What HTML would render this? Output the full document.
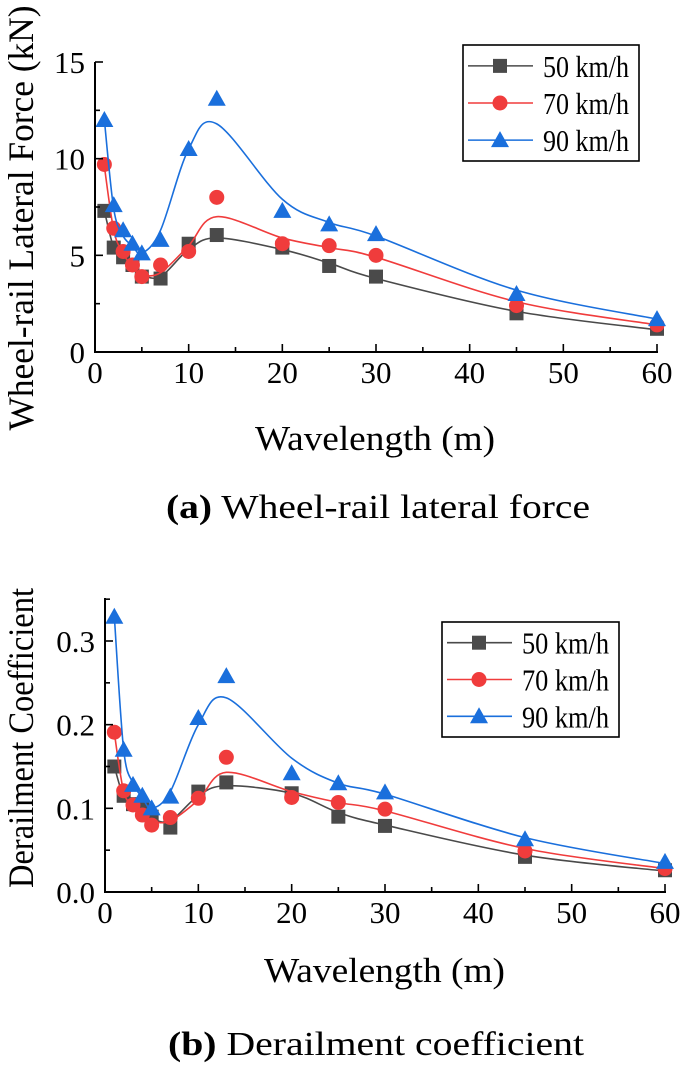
<!DOCTYPE html>
<html><head><meta charset="utf-8"><style>
html,body{margin:0;padding:0;background:#fff;}
svg, svg text{font-family:"Liberation Serif","Times New Roman",Times,serif;}
svg{display:block;}
</style></head><body>
<svg id="s" width="685" height="1070" viewBox="0 0 685 1070" xmlns="http://www.w3.org/2000/svg" font-family="Liberation Serif, Times New Roman, serif"></svg>
<script>
const xs = [1,2,3,4,5,7,10,13,20,25,30,45,60];
const seriesNames = ["50 km/h","70 km/h","90 km/h"];
const a50 = [7.3,5.4,4.9,4.5,3.9,3.8,5.6,6.05,5.4,4.45,3.9,2.0,1.2];
const a70 = [9.7,6.4,5.2,4.5,3.9,4.5,5.2,8.0,5.6,5.5,5.0,2.4,1.4];
const a90 = [12.0,7.6,6.3,5.6,5.1,5.8,10.5,13.1,7.3,6.6,6.1,3.0,1.7];
const a50fit = [7.3,5.4,4.8,4.3,4.0,3.9,5.3,5.9,5.3,4.6,3.8,2.1,1.15];
const a70fit = [9.6,6.3,5.1,4.4,4.0,4.1,5.5,7.0,5.9,5.4,4.9,2.6,1.4];
const a90fit = [12.0,7.4,6.0,5.5,5.1,6.3,10.5,11.8,7.9,6.7,6.0,3.2,1.7];
const b50 = [.150,.115,.105,.100,.090,.077,.120,.131,.118,.090,.079,.042,.026];
const b70 = [.191,.121,.104,.092,.080,.089,.112,.161,.113,.107,.099,.049,.028];
const b90 = [.329,.170,.128,.115,.100,.114,.208,.258,.142,.130,.119,.063,.036];
const b50fit = [.150,.113,.100,.095,.088,.085,.115,.127,.118,.095,.080,.044,.025];
const b70fit = [.190,.120,.104,.094,.085,.085,.110,.143,.120,.107,.097,.052,.028];
const b90fit = [.329,.170,.130,.113,.100,.120,.200,.232,.160,.130,.117,.065,.034];
const xTicks = [0,10,20,30,40,50,60];
const aYTicks = [0,5,10,15];
const aYLabels = ["0","5","10","15"];
const bYTicks = [0,0.1,0.2,0.3];
const bYLabels = ["0.0","0.1","0.2","0.3"];
const colors = ["#4a4a4a","#f03c3c","#1a6fdc"];
const NS="http://www.w3.org/2000/svg";
const svg=document.getElementById('s');
function mk(tag,attrs,parent){const e=document.createElementNS(NS,tag);for(const k in attrs)e.setAttribute(k,attrs[k]);(parent||svg).appendChild(e);return e;}
function txt(str,attrs,parent){const t=mk('text',attrs,parent);t.textContent=str;return t;}
function smooth(pts){let d=`M${pts[0][0]},${pts[0][1]}`;for(let i=0;i<pts.length-1;i++){const p0=pts[Math.max(i-1,0)],p1=pts[i],p2=pts[i+1],p3=pts[Math.min(i+2,pts.length-1)];const c1=[p1[0]+(p2[0]-p0[0])/6,p1[1]+(p2[1]-p0[1])/6],c2=[p2[0]-(p3[0]-p1[0])/6,p2[1]-(p3[1]-p1[1])/6];d+=` C${c1[0]},${c1[1]} ${c2[0]},${c2[1]} ${p2[0]},${p2[1]}`;}return d;}
function marker(kind,x,y,c,g){let m;
 if(kind===0)m=mk('rect',{x:x-7,y:y-7,width:14,height:14,fill:c},g);
 else if(kind===1)m=mk('circle',{cx:x,cy:y,r:7.5,fill:c},g);
 else m=mk('polygon',{points:`${x},${y-9} ${x+9},${y+7} ${x-9},${y+7}`,fill:c},g);
 return m;}
function chart(cfg){
 const g=mk('g',{});
 
 
 const X=v=>cfg.x0+(v/60)*(cfg.x1-cfg.x0);
 const Y=v=>cfg.y0-(v/cfg.ymax)*(cfg.y0-cfg.yTopVal);
 const data=[cfg.s50,cfg.s70,cfg.s90], fits=[cfg.f50,cfg.f70,cfg.f90];
 for(let s=0;s<3;s++){
  const sg=mk('g',{},g);
  
  
  const p=mk('path',{d:smooth(xs.map((x,i)=>[X(x),Y(fits[s][i])])),fill:'none',stroke:colors[s],'stroke-width':1.6},sg);
  
  
  xs.forEach((x,i)=>{const m=marker(s,X(x),Y(data[s][i]),colors[s],sg);
   
   });
 }
 const ax=mk('path',{d:`M${cfg.x0},${cfg.yTop} V${cfg.y0} H${cfg.x1+1}`,fill:'none',stroke:'#000','stroke-width':2},g);
 
 
 for(let v=0;v<=60;v+=5){const L=v%10===0?8:5;mk('line',{x1:X(v),x2:X(v),y1:cfg.y0,y2:cfg.y0-L,stroke:'#000','stroke-width':1.6},g);}
 xTicks.forEach(v=>{const t=txt(String(v),{x:X(v),y:cfg.y0+31,'font-size':31,'text-anchor':'middle'},g);
  
  });
 const yt=cfg.yTicks;
 for(let i=0;i<yt.length;i++){mk('line',{x1:cfg.x0,x2:cfg.x0+8,y1:Y(yt[i]),y2:Y(yt[i]),stroke:'#000','stroke-width':1.6},g);
  if(i<yt.length-1){const mv=(yt[i]+yt[i+1])/2;mk('line',{x1:cfg.x0,x2:cfg.x0+5,y1:Y(mv),y2:Y(mv),stroke:'#000','stroke-width':1.6},g);}
  const t=txt(cfg.yLabels[i],{x:cfg.x0-10,y:Y(yt[i])+11,'font-size':31,'text-anchor':'end'},g);
  
  }
 if(cfg.extraMinor){const mv=yt[yt.length-1]+ (yt[1]-yt[0])/2;mk('line',{x1:cfg.x0,x2:cfg.x0+5,y1:Y(mv),y2:Y(mv),stroke:'#000','stroke-width':1.6},g);}
 const xt=txt('Wavelength (m)',{x:cfg.xtX,y:cfg.xtY,'font-size':35,textLength:cfg.xtW,lengthAdjust:'spacingAndGlyphs'},g);
 
 
 const ytt=txt(cfg.ytitle,{x:0,y:0,'font-size':36,'text-anchor':'middle',textLength:cfg.ytW,lengthAdjust:'spacingAndGlyphs',transform:`translate(${cfg.ytX},${cfg.ytY}) rotate(-90)`},g);
 
 
 const lg=mk('g',{},g);
 
 
 mk('rect',{x:cfg.lx,y:cfg.ly,width:cfg.lw,height:cfg.lh,fill:'#fff',stroke:'#000','stroke-width':1.6},lg);
 for(let s=0;s<3;s++){const yy=cfg.ly+cfg.lh*(0.18+0.32*s);
  const e=mk('g',{},lg);
  
  
  mk('line',{x1:cfg.lx+5,x2:cfg.lx+70,y1:yy,y2:yy,stroke:colors[s],'stroke-width':1.6},e);
  marker(s,cfg.lx+37,yy,colors[s],e);
  txt(seriesNames[s],{x:cfg.lx+80,y:yy+11,'font-size':31,textLength:cfg.lw-90,lengthAdjust:'spacingAndGlyphs'},e);}
 const cap=mk('text',{x:cfg.capX,y:cfg.capY,'font-size':34,textLength:cfg.capW,lengthAdjust:'spacingAndGlyphs'},g);
 
 
 const b=document.createElementNS(NS,'tspan');b.setAttribute('font-weight','bold');b.textContent=cfg.capB;cap.appendChild(b);
 const r=document.createElementNS(NS,'tspan');r.textContent=' '+cfg.capT;cap.appendChild(r);
}
chart({name:'chart-lateral-force',x0:95,x1:657,y0:352,yTopVal:62,ymax:15,yTop:62,yTicks:aYTicks,yLabels:aYLabels,
 s50:a50,s70:a70,s90:a90,f50:a50fit,f70:a70fit,f90:a90fit,
 xtX:255,xtY:450,xtW:240,ytitle:'Wheel-rail Lateral Force (kN)',ytX:33,ytY:218,ytW:425,
 lx:463,ly:45,lw:176,lh:116,capX:166,capY:518,capW:424,capB:'(a)',capT:'Wheel-rail lateral force'});
chart({name:'chart-derailment-coefficient',x0:105,x1:665,y0:892,yTopVal:641,ymax:0.3,yTop:598,yTicks:bYTicks,yLabels:bYLabels,extraMinor:true,
 s50:b50,s70:b70,s90:b90,f50:b50fit,f70:b70fit,f90:b90fit,
 xtX:264,xtY:982,xtW:241,ytitle:'Derailment Coefficient',ytX:33,ytY:738,ytW:300,
 lx:442,ly:622,lw:177,lh:115,capX:168,capY:1055,capW:416,capB:'(b)',capT:'Derailment coefficient'});
</script>
</body></html>
